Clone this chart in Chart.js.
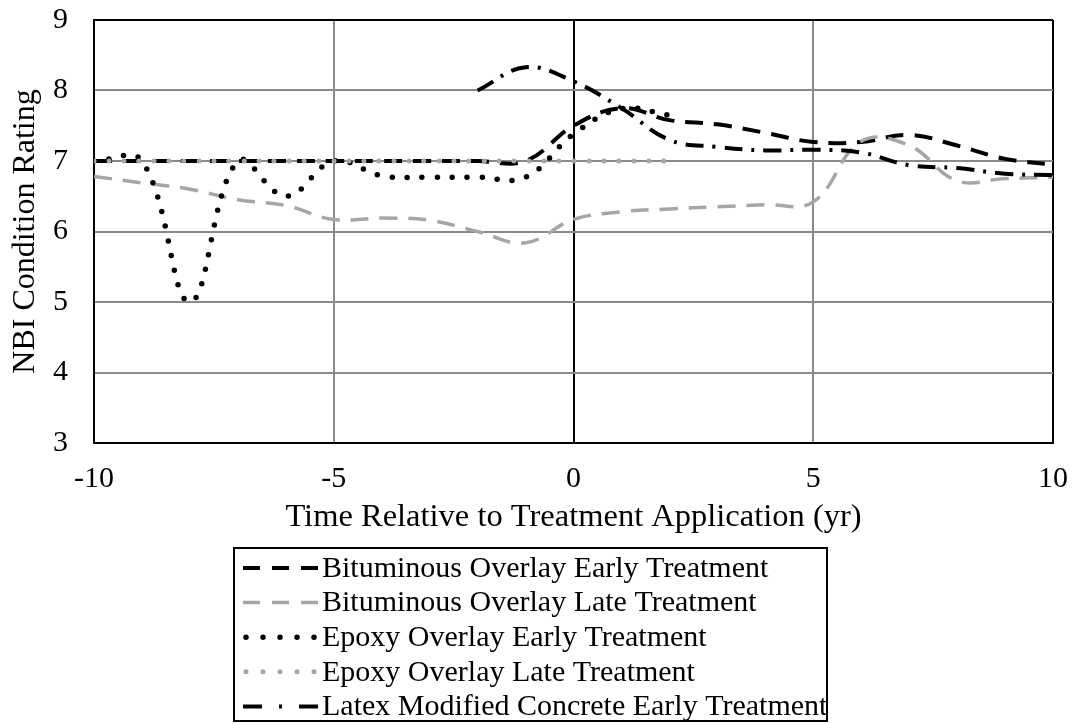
<html>
  <head>
    <script src="https://cdn.jsdelivr.net/npm/chart.js@4.4.0/dist/chart.umd.min.js"></script>
    <style>
      body { margin: 0; background: #fff; }
      #wrap { width: 1075px; height: 724px; }
    </style>
  </head>
  <body>
    <div id="wrap"><canvas id="myChart" width="1075" height="724"></canvas></div>
    <script>
      // years relative to treatment
      const years = [-10, -9, -8, -7, -6, -5, -4, -3, -2, -1, 0, 1, 2, 3, 4, 5, 6, 7, 8, 9, 10];
      const xTicks = [-10, -5, 0, 5, 10];
      const yTicks = [3, 4, 5, 6, 7, 8, 9];

      const bitEarly = [7.0, 7.0, 7.0, 7.0, 7.0, 7.0, 7.0, 7.0, 7.0, 7.0, 7.5, 7.75, 7.58, 7.52, 7.4, 7.27, 7.27, 7.37, 7.22, 7.03, 6.95];
      const bitLate = [6.78, 6.69, 6.6, 6.45, 6.37, 6.17, 6.19, 6.16, 6.0, 5.84, 6.17, 6.28, 6.32, 6.35, 6.38, 6.42, 7.28, 7.22, 6.72, 6.75, 6.77];
      const epoxyEarly = [7.0, 7.0, 5.0, 7.0, 6.5, 7.0, 6.79, 6.77, 6.77, 6.77, 7.38, 7.74, 7.65, null, null, null, null, null, null, null, null];
      const epoxyLate = [7.0, 7.0, 7.0, 7.0, 7.0, 7.0, 7.0, 7.0, 7.0, 7.0, 7.0, 7.0, 7.0, null, null, null, null, null, null, null, null];
      const latexEarly = [null, null, null, null, null, null, null, null, 8.0, 8.33, 8.13, 7.75, 7.3, 7.2, 7.15, 7.16, 7.12, 6.94, 6.9, 6.82, 6.8];

      const labels = [
        "Bituminous Overlay Early Treatment",
        "Bituminous Overlay Late Treatment",
        "Epoxy Overlay Early Treatment",
        "Epoxy Overlay Late Treatment",
        "Latex Modified Concrete Early Treatment"
      ];

      const FONT = "'Liberation Serif', 'Times New Roman', serif";
      const GRID = "#8a8a8a";
      const GRAY = "#a6a6a6";

      function pts(vals) {
        const out = [];
        vals.forEach((v, i) => { if (v !== null) out.push({x: years[i], y: v}); });
        return out;
      }

      // tick padding would otherwise be added to the plot margins
      function noPad(s) {
        s.paddingTop = 0;
        s.paddingBottom = 0;
        s.paddingLeft = 0;
        s.paddingRight = 0;
      }

      // legend drawn inside a box under the axis title
      const boxLegend = {
        id: "boxLegend",
        afterDraw(chart) {
          const ctx = chart.ctx;
          const left = 233, top = 547, w = 595, h = 175;
          ctx.save();
          ctx.strokeStyle = "#000";
          ctx.lineWidth = 2;
          ctx.setLineDash([]);
          ctx.strokeRect(left + 1, top + 1, w - 2, h - 2);
          ctx.font = "30px " + FONT;
          ctx.textBaseline = "middle";
          ctx.textAlign = "left";
          chart.data.datasets.forEach((ds, i) => {
            const y = top + 21 + i * 34.6;
            ctx.beginPath();
            ctx.strokeStyle = ds.borderColor;
            ctx.lineWidth = ds.borderWidth;
            ctx.lineCap = ds.borderCapStyle || "butt";
            ctx.setLineDash(ds.legendDash);
            ctx.moveTo(ds.legendStart, y);
            ctx.lineTo(318, y);
            ctx.stroke();
            ctx.setLineDash([]);
            ctx.fillStyle = "#000";
            ctx.fillText(ds.label, 322, y + 1);
          });
          ctx.restore();
        }
      };

      const ctx = document.getElementById("myChart").getContext("2d");
      const myChart = new Chart(ctx, {
        type: "line",
        data: {
          // later series on top, like the original
          datasets: [{
            label: labels[0],
            data: pts(bitEarly),
            order: 5,
            borderColor: "#000",
            borderWidth: 4,
            borderDash: [18, 11],
            legendDash: [17, 12],
            legendStart: 243
          }, {
            label: labels[1],
            data: pts(bitLate),
            order: 4,
            borderColor: GRAY,
            borderWidth: 3.5,
            borderDash: [18, 11],
            legendDash: [17, 12],
            legendStart: 243
          }, {
            label: labels[2],
            data: pts(epoxyEarly),
            order: 3,
            borderColor: "#000",
            borderWidth: 5.5,
            borderCapStyle: "round",
            borderDash: [0, 15],
            legendDash: [0, 17],
            legendStart: 246
          }, {
            label: labels[3],
            data: pts(epoxyLate),
            order: 2,
            borderColor: GRAY,
            borderWidth: 5,
            borderCapStyle: "round",
            borderDash: [0, 15],
            legendDash: [0, 17],
            legendStart: 246
          }, {
            label: labels[4],
            data: pts(latexEarly),
            order: 1,
            borderColor: "#000",
            borderWidth: 4,
            borderDash: [18, 9, 3, 9],
            legendDash: [19, 17, 3, 17],
            legendStart: 243
          }]
        },
        options: {
          responsive: false,
          animation: false,
          layout: { padding: { left: 0, right: 22, top: 20, bottom: 187 } },
          elements: {
            point: { radius: 0 },
            line: { tension: 0.4, fill: false }
          },
          plugins: {
            legend: { display: false },
            tooltip: { enabled: false }
          },
          scales: {
            x: {
              type: "linear",
              min: -10,
              max: 10,
              afterBuildTicks: s => { s.ticks = xTicks.map(v => ({value: v})); },
              afterFit: s => { s.height = 94; noPad(s); },
              grid: {
                drawTicks: false,
                lineWidth: 2,
                color: c => (c.tick && [-10, 0, 10].includes(c.tick.value)) ? "#000" : GRID
              },
              border: { color: "#000", width: 2 },
              ticks: {
                padding: 18,
                color: "#000",
                font: { family: FONT, size: 30 },
                maxRotation: 0
              },
              title: {
                display: true,
                text: "Time Relative to Treatment Application (yr)",
                color: "#000",
                font: { family: FONT, size: 32.5 },
                padding: 0
              }
            },
            y: {
              min: 3,
              max: 9,
              afterBuildTicks: s => { s.ticks = yTicks.map(v => ({value: v})); },
              afterFit: s => { s.width = 94; noPad(s); },
              grid: {
                drawTicks: false,
                lineWidth: 2,
                color: c => (c.tick && [3, 9].includes(c.tick.value)) ? "#000" : GRID
              },
              border: { color: "#000", width: 2 },
              ticks: {
                padding: 26,
                color: "#000",
                font: { family: FONT, size: 30 }
              },
              title: {
                display: true,
                text: "NBI Condition Rating",
                color: "#000",
                font: { family: FONT, size: 32 },
                padding: { top: 6, bottom: 0 }
              }
            }
          }
        },
        plugins: [boxLegend]
      });
    </script>
  </body>
</html>
